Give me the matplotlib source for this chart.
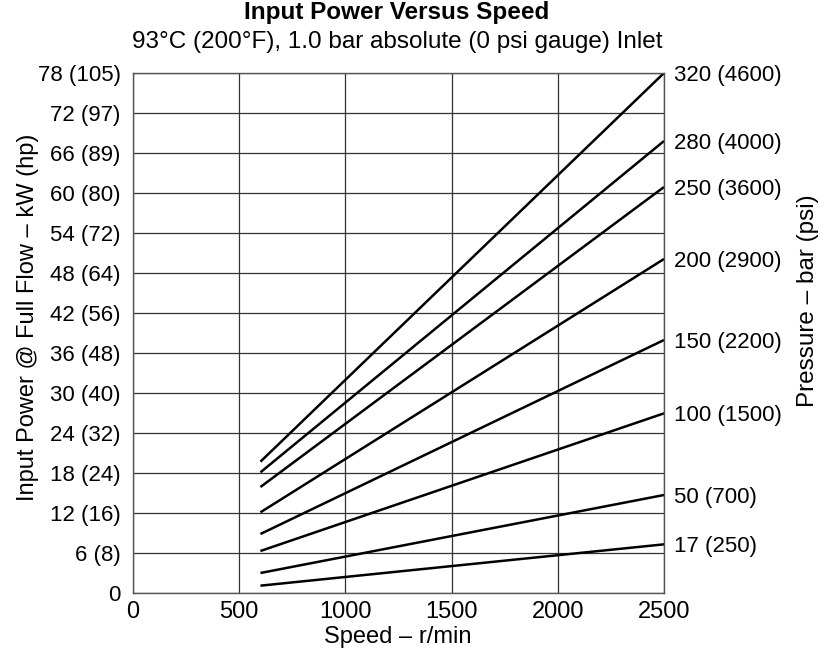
import matplotlib.pyplot as plt

plt.rcParams['font.family'] = ['Liberation Sans', 'DejaVu Sans']

# speed range of the curves (r/min)
speed = [600, 2500]

# pressure labels and input power (kW) at start / end speed
pressure = ["320 (4600)", "280 (4000)", "250 (3600)", "200 (2900)",
            "150 (2200)", "100 (1500)", "50 (700)", "17 (250)"]
power_start = [19.7, 18.1, 15.9, 12.1, 8.85, 6.3, 3.0, 1.1]
power_end = [78.0, 67.8, 60.9, 50.1, 37.95, 26.95, 14.7, 7.3]

yticks = [0, 6, 12, 18, 24, 30, 36, 42, 48, 54, 60, 66, 72, 78]
ytick_labels = ["0", "6 (8)", "12 (16)", "18 (24)", "24 (32)", "30 (40)",
                "36 (48)", "42 (56)", "48 (64)", "54 (72)", "60 (80)",
                "66 (89)", "72 (97)", "78 (105)"]
xticks = [0, 500, 1000, 1500, 2000, 2500]

fig = plt.figure(figsize=(8.32, 6.5), dpi=100)
ax = fig.add_axes([133/832, 1-593/650, 531/832, 520/650])

for s, e in zip(power_start, power_end):
    ax.plot(speed, [s, e], color="black", linewidth=1.8, solid_capstyle="butt")

ax.set_xlim(0, 2500)
ax.set_ylim(0, 78)
ax.set_xticks(xticks)
ax.set_yticks(yticks)
ax.set_yticklabels(ytick_labels)
ax.tick_params(axis="x", length=0, labelsize=17, pad=6)
ax.tick_params(axis="y", length=0, labelsize=16, pad=9)
ax.grid(True, color="#333333", linewidth=0.9)
for sp in ax.spines.values():
    sp.set_color("#555555")
    sp.set_linewidth(1.0)

ax2 = ax.twinx()
ax2.set_ylim(0, 78)
ax2.set_yticks(power_end)
ax2.set_yticklabels(pressure)
ax2.tick_params(length=0, labelsize=16, pad=7)
for sp in ax2.spines.values():
    sp.set_visible(False)

fig.text(398/832, 2/650, "Speed \u2013 r/min", ha="center", va="bottom", fontsize=17)
fig.text(28/832, 1-317/650, "Input Power @ Full Flow \u2013 kW (hp)",
         ha="center", va="center", rotation=90, fontsize=17)
fig.text(808/832, 1-301/650, "Pressure \u2013 bar (psi)",
         ha="center", va="center", rotation=90, fontsize=17.5)

fig.text(397/832, 1-13/650, "Input Power Versus Speed", ha="center", va="center",
         fontsize=17.5, fontweight="bold")
fig.text(397/832, 1-42/650, "93\u00b0C (200\u00b0F), 1.0 bar absolute (0 psi gauge) Inlet",
         ha="center", va="center", fontsize=17.5)

fig.savefig("out.png", dpi=100)
